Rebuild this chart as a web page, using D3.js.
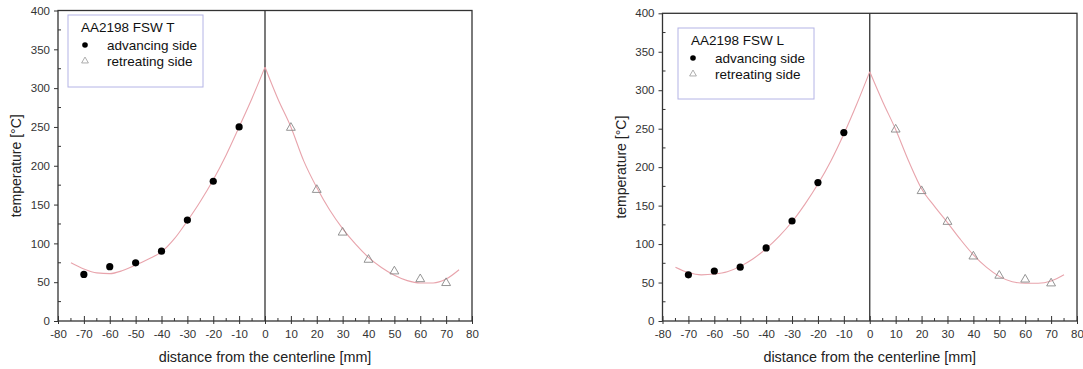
<!DOCTYPE html>
<html><head><meta charset="utf-8">
<script src="https://cdn.jsdelivr.net/npm/d3@7"></script>
<style>body{margin:0;background:#fff;} svg{display:block;font-family:"Liberation Sans",Arial,sans-serif;}</style>
</head><body><svg id="c" width="1083" height="369"></svg>
<script>
const xTicks = [-80,-70,-60,-50,-40,-30,-20,-10,0,10,20,30,40,50,60,70,80];
const yTicks = [0,50,100,150,200,250,300,350,400];

// Chart T
const tTitle = "AA2198 FSW T";
const tAdvX = [-70,-60,-50,-40,-30,-20,-10];
const tAdvY = [60,70,75,90,130,180,250];
const tRetX = [10,20,30,40,50,60,70];
const tRetY = [250,170,115,80,65,55,50];
const tFitX = [-75,-70,-65,-60,-55,-50,-45,-40,-35,-30,-25,-20,-15,-10,-5,0,5,10,15,20,25,30,35,40,45,50,55,60,65,70,75];
const tFitY = [75,67,62,61,65,72,80,89,106,129,154,182,214,250,287,327,286,250,206,172,143,119,99,82,69,59,52,49,49,54,66];

// Chart L
const lTitle = "AA2198 FSW L";
const lAdvX = [-70,-60,-50,-40,-30,-20,-10];
const lAdvY = [60,65,70,95,130,180,245];
const lRetX = [10,20,30,40,50,60,70];
const lRetY = [250,170,130,85,60,55,50];
const lFitX = tFitX;
const lFitY = [70,63,60,61,64,71,81,94,110,129,152,178,208,243,282,324,285,249,208,172,149,128,106,86,70,58,51,49,49,52,60];

const legendAdv = "advancing side";
const legendRet = "retreating side";
const xLabel = "distance from the centerline [mm]";
const yLabel = "temperature [°C]";

const svg = d3.select("#c");

function chart(cfg){
  const g = svg.append("g");
  const x = d3.scaleLinear().domain([-80,80]).range([cfg.left, cfg.right]);
  const y = d3.scaleLinear().domain([0,400]).range([cfg.bottom, cfg.top]);
  const axCol = "#333";
  const minorX = d3.range(-75,80,10);
  g.selectAll(".mx").data(minorX).enter().append("line")
    .attr("x1",d=>x(d)).attr("x2",d=>x(d)).attr("y1",cfg.bottom).attr("y2",cfg.bottom-3)
    .attr("stroke",axCol).attr("stroke-width",1);
  const minorY = d3.range(25,400,50);
  g.selectAll(".my").data(minorY).enter().append("line")
    .attr("x1",cfg.left).attr("x2",cfg.left+3).attr("y1",d=>y(d)).attr("y2",d=>y(d))
    .attr("stroke",axCol).attr("stroke-width",1);
  const xa = g.append("g").attr("transform",`translate(0,${cfg.bottom})`)
    .call(d3.axisBottom(x).tickValues(xTicks).tickSize(-5).tickPadding(9).tickFormat(d=>String(d)));
  const ya = g.append("g").attr("transform",`translate(${cfg.left},0)`)
    .call(d3.axisLeft(y).tickValues(yTicks).tickSize(4).tickPadding(4).tickFormat(d=>String(d)));
  [xa,ya].forEach(a=>{
    a.select(".domain").remove();
    a.selectAll("line").attr("stroke",axCol);
    a.selectAll("text").attr("fill","#333").style("font-size","11.5px").style("font-family","'Liberation Sans',Arial,sans-serif");
  });
  xa.selectAll(".tick line").attr("y1",3);
  g.append("rect").attr("x",cfg.left).attr("y",cfg.top).attr("width",cfg.right-cfg.left).attr("height",cfg.bottom-cfg.top)
    .attr("fill","none").attr("stroke",axCol).attr("stroke-width",1.3);
  g.append("line").attr("x1",x(0)).attr("x2",x(0)).attr("y1",cfg.top).attr("y2",cfg.bottom)
    .attr("stroke",axCol).attr("stroke-width",1.3);
  const fit = cfg.fitX.map((d,i)=>[d,cfg.fitY[i]]);
  const left = fit.filter(d=>d[0]<=0), right = fit.filter(d=>d[0]>=0);
  const line = d3.line().x(d=>x(d[0])).y(d=>y(d[1])).curve(d3.curveMonotoneX);
  [left,right].forEach(seg=>g.append("path").attr("d",line(seg)).attr("fill","none").attr("stroke","#e8a4ac").attr("stroke-width",1.1));
  g.selectAll(".adv").data(cfg.advX).enter().append("circle")
    .attr("cx",d=>x(d)).attr("cy",(d,i)=>y(cfg.advY[i])).attr("r",3.6).attr("fill","#000");
  const tri = d3.symbol().type(d3.symbolTriangle).size(34);
  g.selectAll(".ret").data(cfg.retX).enter().append("path")
    .attr("d",tri).attr("transform",(d,i)=>`translate(${x(d)},${y(cfg.retY[i])+0.8})`)
    .attr("fill","none").attr("stroke","#888").attr("stroke-width",0.9);
  const L = cfg.leg;
  const fs = "13.5px";
  g.append("rect").attr("x",L.x).attr("y",L.y).attr("width",L.w).attr("height",L.h)
    .attr("fill","#fff").attr("stroke","#b4b4e6").attr("stroke-width",1);
  g.append("text").attr("x",L.tx).attr("y",L.y+17).text(cfg.title).style("font-size",fs).attr("fill","#111");
  g.append("circle").attr("cx",L.mx).attr("cy",L.y+30).attr("r",2.8).attr("fill","#000");
  g.append("text").attr("x",L.mx+22).attr("y",L.y+35).text(legendAdv).style("font-size",fs).attr("fill","#111");
  g.append("path").attr("d",d3.symbol().type(d3.symbolTriangle).size(20)).attr("transform",`translate(${L.mx},${L.y+46})`)
    .attr("fill","none").attr("stroke","#999").attr("stroke-width",0.8);
  g.append("text").attr("x",L.mx+22).attr("y",L.y+51).text(legendRet).style("font-size",fs).attr("fill","#111");
  g.append("text").attr("x",(cfg.left+cfg.right)/2).attr("y",cfg.bottom+41).attr("text-anchor","middle")
    .text(xLabel).style("font-size","14.4px").attr("fill","#222");
  g.append("text").attr("transform",`translate(${cfg.left-37},${(cfg.top+cfg.bottom)/2}) rotate(-90)`).attr("text-anchor","middle")
    .text(yLabel).style("font-size","14px").attr("fill","#222");
}

chart({left:58,right:472,top:10.5,bottom:321,title:tTitle,advX:tAdvX,advY:tAdvY,retX:tRetX,retY:tRetY,fitX:tFitX,fitY:tFitY,
  leg:{x:68,y:15,w:135,h:72,tx:81,mx:85}});
chart({left:662.5,right:1077,top:13.3,bottom:321,title:lTitle,advX:lAdvX,advY:lAdvY,retX:lRetX,retY:lRetY,fitX:lFitX,fitY:lFitY,
  leg:{x:678,y:28,w:136,h:71,tx:691,mx:693}});
</script></body></html>
